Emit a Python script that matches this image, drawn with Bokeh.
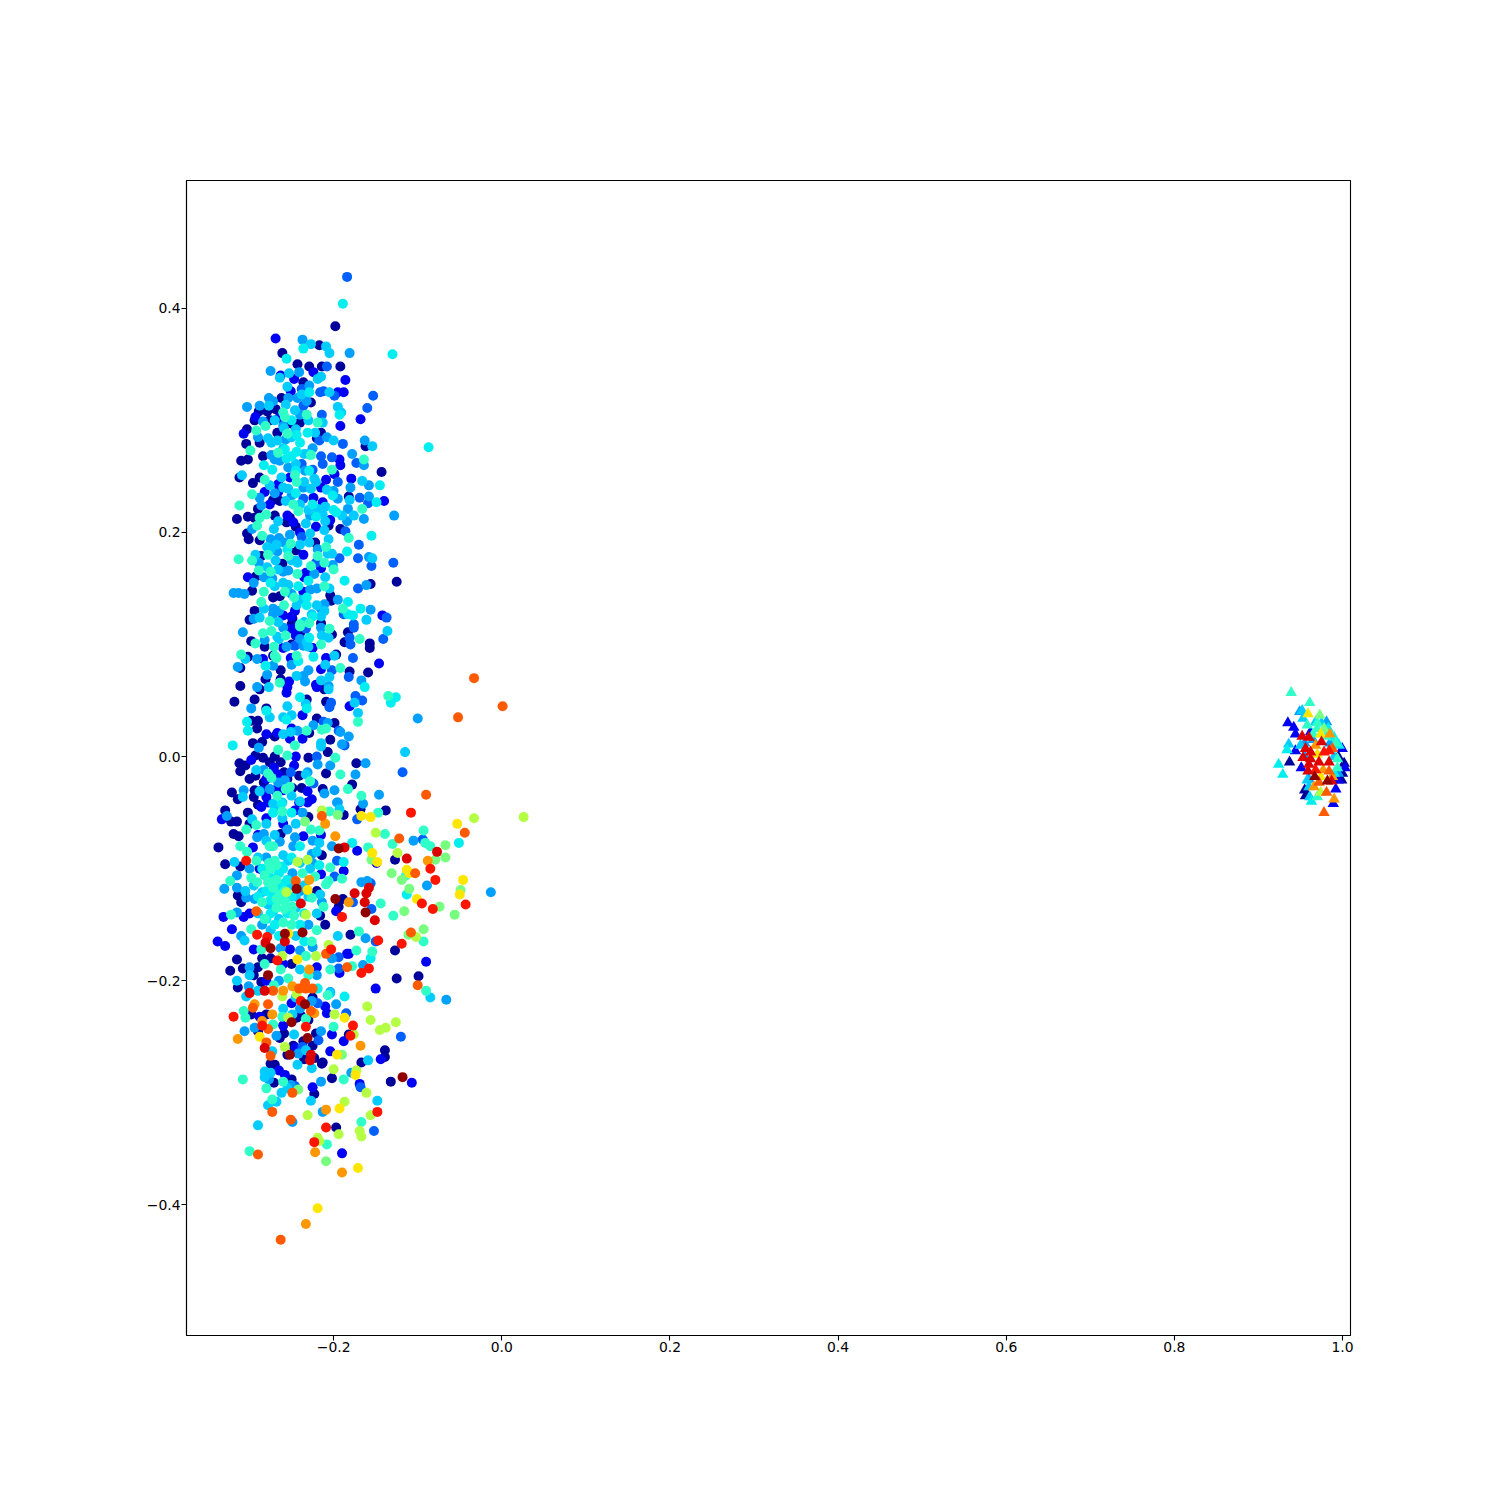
from bokeh.embed import file_html
from bokeh.models import ColumnDataSource, FixedTicker, Range1d
from bokeh.plotting import figure
from bokeh.resources import INLINE

# colour bands (jet colormap)
band_colors = {"n": "#00009a", "b": "#0000f5", "B": "#0060ff", "a": "#00a0ff", "s": "#00ccff",
               "c": "#00eef0", "t": "#30ffc8", "g": "#78ff80", "l": "#b4ff44", "y": "#ffe600",
               "o": "#ff9800", "k": "#ff5a00", "r": "#ff1400", "m": "#dc0000", "d": "#900000"}
band_order = "nbBasctglyokrmd"

x_ticks = [-0.2, 0.0, 0.2, 0.4, 0.6, 0.8, 1.0]
y_ticks = [-0.4, -0.2, 0.0, 0.2, 0.4]

top_points = [
(-.184,.428,"B"),(-.189,.404,"c"),(-.198,.384,"n"),(-.269,.373,"b"),(-.237,.372,"a"),(-.227,.368,"s"),(-.217,.367,"n"),(-.209,.366,"s"),(-.236,.364,"c"),(-.205,.360,"s"),(-.181,.360,"a"),(-.130,.359,"c"),(-.261,.360,"n"),(-.256,.355,"c"),
(-.275,.344,"a"),(-.263,.340,"b"),(-.264,.338,"s"),(-.253,.342,"s"),(-.241,.343,"a"),(-.243,.350,"n"),(-.229,.348,"n"),(-.224,.343,"b"),(-.214,.348,"n"),(-.208,.348,"B"),(-.192,.348,"n"),(-.186,.336,"b"),(-.247,.337,"b"),(-.236,.334,"n"),(-.215,.339,"s"),(-.219,.337,"s"),(-.255,.330,"s"),(-.251,.326,"b"),(-.238,.328,"B"),(-.229,.331,"a"),(-.212,.326,"B"),(-.216,.325,"B"),(-.205,.325,"s"),(-.195,.325,"b"),(-.188,.325,"b"),(-.199,.322,"B"),(-.153,.322,"B"),(-.160,.311,"B"),(-.168,.301,"b"),(-.192,.295,"b"),(-.195,.312,"s"),(-.191,.307,"s"),(-.193,.305,"c"),(-.214,.305,"B"),(-.232,.305,"t"),(-.229,.325,"c"),(-.238,.323,"s"),(-.243,.320,"a"),(-.262,.320,"n"),(-.277,.320,"a"),(-.272,.317,"a"),(-.288,.313,"a"),(-.303,.312,"a"),(-.277,.313,"s"),(-.257,.314,"s"),(-.254,.320,"a"),(-.232,.317,"a"),(-.227,.316,"n"),(-.236,.313,"B"),(-.246,.309,"s"),(-.260,.307,"t"),(-.258,.303,"t"),(-.269,.310,"n"),(-.279,.308,"n"),(-.289,.308,"n"),(-.293,.303,"b"),(-.294,.300,"n"),(-.276,.300,"n"),(-.265,.302,"b"),(-.250,.297,"n"),(-.240,.298,"n"),(-.284,.299,"a"),(-.303,.292,"n"),(-.307,.288,"b"),(-.292,.291,"t"),(-.281,.295,"t"),(-.267,.289,"n"),(-.259,.293,"s"),(-.255,.288,"t"),(-.245,.292,"s"),(-.244,.287,"c"),(-.231,.289,"c"),(-.219,.298,"t"),(-.213,.298,"s"),(-.215,.289,"n"),(-.222,.289,"s"),(-.220,.284,"n"),(-.208,.285,"a"),(-.200,.282,"s"),(-.217,.282,"B"),(-.189,.279,"B"),(-.163,.282,"a"),(-.162,.277,"n"),(-.154,.277,"s"),(-.087,.276,"c"),(-.304,.279,"n"),(-.288,.280,"n"),(-.290,.285,"a"),(-.278,.284,"s"),(-.267,.282,"s"),(-.257,.283,"a"),(-.274,.280,"s"),
]

upper_points = [
(-.299,.273,"t"),(-.310,.264,"n"),(-.302,.265,"n"),(-.309,.251,"s"),(-.312,.249,"n"),(-.296,.244,"n"),(-.288,.249,"n"),(-.282,.247,"t"),(-.283,.260,"c"),(-.273,.256,"c"),(-.266,.271,"t"),(-.256,.266,"c"),(-.244,.272,"c"),(-.230,.270,"s"),(-.227,.269,"t"),(-.215,.268,"B"),(-.213,.261,"B"),(-.202,.267,"B"),(-.193,.265,"b"),(-.192,.260,"b"),(-.178,.270,"a"),(-.173,.262,"B"),(-.164,.265,"t"),(-.164,.260,"a"),(-.143,.254,"n"),(-.202,.256,"t"),(-.199,.252,"b"),(-.209,.247,"b"),(-.195,.245,"B"),(-.179,.248,"b"),(-.166,.246,"s"),(-.158,.242,"a"),(-.145,.242,"c"),(-.200,.237,"a"),(-.201,.233,"c"),(-.208,.238,"s"),(-.215,.240,"b"),(-.221,.245,"s"),(-.229,.255,"c"),(-.244,.245,"t"),(-.246,.251,"t"),(-.262,.249,"s"),(-.266,.243,"b"),(-.276,.242,"s"),(-.266,.236,"b"),(-.254,.239,"s"),(-.297,.234,"t"),(-.288,.231,"a"),(-.282,.236,"b"),(-.312,.224,"t"),(-.286,.224,"a"),(-.290,.221,"n"),(-.276,.225,"b"),(-.264,.228,"n"),(-.272,.229,"n"),(-.257,.228,"s"),(-.248,.225,"t"),(-.236,.230,"B"),(-.224,.231,"b"),(-.242,.219,"t"),(-.230,.220,"s"),(-.219,.221,"s"),(-.210,.223,"s"),(-.213,.227,"b"),(-.182,.232,"n"),(-.181,.229,"s"),(-.169,.231,"B"),(-.158,.232,"a"),(-.159,.226,"B"),(-.149,.227,"c"),(-.140,.228,"b"),(-.183,.221,"a"),(-.166,.221,"t"),(-.176,.215,"s"),(-.190,.215,"s"),(-.197,.218,"c"),(-.128,.215,"a"),(-.204,.211,"b"),(-.164,.212,"a"),(-.184,.210,"a"),(-.315,.212,"n"),(-.302,.214,"n"),(-.294,.213,"n"),(-.288,.213,"t"),(-.280,.216,"t"),(-.270,.215,"n"),(-.252,.213,"n"),(-.256,.209,"n"),(-.248,.209,"b"),(-.266,.210,"s"),(-.228,.215,"a"),(-.221,.214,"c"),(-.213,.216,"s"),(-.233,.208,"s"),(-.221,.205,"b"),(-.291,.206,"t"),(-.297,.203,"a"),(-.271,.203,"s"),(-.206,.206,"n"),(-.211,.202,"s"),(-.192,.203,"n"),(-.186,.201,"B"),(-.155,.197,"c"),(-.182,.195,"t"),(-.206,.194,"s"),(-.303,.199,"n"),(-.301,.194,"n"),(-.288,.193,"n"),(-.285,.197,"t"),(-.275,.194,"a"),(-.265,.194,"B"),(-.252,.198,"a"),(-.238,.196,"B"),(-.228,.199,"s"),(-.229,.191,"s"),(-.222,.191,"n"),(-.259,.191,"a"),(-.251,.190,"t"),(-.268,.189,"s"),(-.240,.189,"s"),(-.279,.187,"s"),(-.170,.189,"B"),(-.209,.187,"t"),(-.267,.183,"a"),(-.245,.184,"n"),(-.219,.185,"a"),(-.207,.181,"s"),(-.202,.181,"s"),(-.184,.183,"c"),(-.236,.180,"b"),(-.219,.179,"t"),(-.293,.180,"s"),(-.278,.180,"t"),(-.254,.179,"t"),(-.313,.176,"t"),(-.297,.175,"t"),(-.286,.179,"n"),(-.269,.175,"s"),(-.193,.177,"B"),(-.171,.177,"B"),(-.158,.178,"a"),(-.154,.177,"s"),(-.129,.173,"B"),(-.155,.170,"B"),(-.211,.173,"t"),(-.221,.173,"B"),(-.243,.173,"s"),(-.250,.175,"s"),(-.261,.172,"n"),(-.289,.173,"a"),(-.227,.170,"t"),(-.201,.171,"a"),(-.200,.167,"t"),(-.215,.168,"b"),(-.279,.169,"s"),(-.266,.167,"s"),(-.275,.165,"t"),(-.289,.166,"t"),(-.254,.166,"a"),(-.243,.163,"t"),(-.233,.164,"b"),(-.223,.163,"a"),(-.302,.160,"b"),(-.292,.161,"n"),(-.283,.160,"a"),(-.273,.159,"a"),(-.235,.160,"b"),(-.187,.157,"c"),(-.161,.153,"a"),(-.156,.154,"n"),(-.125,.156,"n"),(-.171,.150,"B"),(-.295,.155,"a"),(-.270,.152,"s"),(-.254,.153,"s"),(-.242,.152,"c"),(-.230,.157,"c"),(-.211,.152,"t"),(-.319,.146,"a"),(-.313,.146,"a"),(-.306,.145,"a"),(-.297,.148,"n"),(-.283,.147,"t"),(-.258,.147,"t"),(-.228,.149,"a"),(-.236,.147,"b"),(-.204,.144,"n"),(-.232,.142,"c"),(-.247,.142,"t"),(-.272,.142,"n"),(-.264,.143,"n"),(-.286,.138,"t"),(-.203,.139,"n"),(-.183,.138,"c"),(-.259,.135,"t"),(-.244,.135,"s"),(-.232,.135,"c"),(-.211,.136,"a"),(-.283,.132,"s"),(-.294,.130,"n"),(-.272,.132,"a"),(-.189,.132,"t"),(-.168,.132,"c"),(-.156,.131,"a"),(-.246,.130,"b"),(-.211,.130,"s"),(-.215,.132,"a"),(-.226,.127,"s"),(-.260,.126,"b"),(-.272,.127,"a"),(-.188,.127,"B"),(-.183,.127,"c"),(-.177,.126,"c"),(-.142,.126,"b"),(-.137,.124,"B"),(-.215,.125,"s"),(-.249,.123,"n"),(-.300,.122,"n"),(-.295,.123,"a"),(-.288,.124,"s"),(-.276,.121,"t"),(-.266,.120,"s"),(-.161,.122,"s"),(-.250,.118,"n"),(-.240,.118,"t"),(-.229,.119,"t"),(-.215,.119,"n"),(-.176,.118,"B"),
(-.258,.274,"c"),(-.250,.268,"c"),(-.264,.264,"a"),(-.254,.258,"a"),(-.245,.261,"s"),(-.238,.261,"B"),(-.234,.255,"a"),(-.223,.248,"s"),(-.227,.239,"s"),(-.236,.240,"a"),(-.250,.233,"a"),(-.284,.268,"n"),(-.274,.269,"a"),(-.225,.256,"B"),(-.252,.249,"b"),
(-.27,.30,"s"),(-.26,.295,"a"),(-.25,.30,"c"),(-.24,.305,"a"),(-.23,.30,"s"),(-.25,.285,"s"),(-.24,.28,"c"),(-.235,.27,"s"),(-.225,.275,"a"),(-.26,.275,"s"),(-.27,.265,"a"),(-.245,.255,"c"),(-.235,.245,"s"),(-.26,.24,"s"),(-.27,.235,"a"),(-.245,.235,"c"),(-.24,.225,"s"),(-.225,.225,"c"),(-.255,.215,"b"),(-.245,.205,"n"),(-.24,.20,"b"),(-.265,.195,"a"),(-.275,.185,"s"),(-.255,.185,"c"),(-.245,.175,"s"),(-.26,.165,"a"),(-.275,.155,"c"),(-.26,.155,"s"),(-.25,.145,"a"),(-.24,.14,"s"),(-.265,.13,"a"),(-.25,.125,"b"),(-.24,.11,"n"),(-.245,.115,"b"),(-.235,.12,"s"),(-.26,.115,"a"),(-.265,.105,"s"),(-.25,.10,"n"),(-.24,.105,"a"),(-.225,.125,"c"),(-.22,.135,"s"),(-.22,.15,"a"),(-.21,.16,"s"),(-.205,.15,"s"),(-.195,.14,"a"),(-.215,.115,"a"),(-.21,.21,"s"),(-.195,.23,"a"),(-.20,.22,"c"),(-.18,.24,"a"),
]

middle_points = [
(-.308,.111,"a"),(-.298,.103,"n"),(-.293,.101,"t"),(-.284,.110,"t"),(-.282,.104,"a"),(-.274,.112,"t"),(-.267,.107,"s"),(-.257,.108,"t"),(-.252,.114,"b"),(-.245,.108,"b"),(-.233,.114,"B"),(-.240,.116,"t"),(-.229,.106,"c"),(-.232,.102,"s"),(-.214,.108,"s"),(-.215,.100,"t"),(-.206,.106,"s"),(-.205,.114,"t"),(-.202,.109,"n"),(-.183,.111,"n"),(-.176,.115,"B"),(-.181,.106,"B"),(-.187,.102,"n"),(-.180,.100,"B"),(-.169,.105,"t"),(-.157,.101,"n"),(-.157,.097,"n"),(-.141,.105,"B"),(-.136,.112,"s"),(-.282,.098,"n"),(-.271,.098,"t"),(-.260,.097,"b"),(-.256,.098,"a"),(-.246,.099,"B"),(-.236,.099,"a"),(-.230,.098,"s"),(-.225,.097,"b"),(-.310,.091,"t"),(-.302,.089,"n"),(-.305,.087,"s"),(-.291,.087,"a"),(-.284,.087,"b"),(-.272,.090,"n"),(-.270,.090,"t"),(-.268,.088,"t"),(-.251,.088,"b"),(-.244,.090,"t"),(-.242,.085,"c"),(-.224,.089,"c"),(-.209,.088,"b"),(-.197,.091,"n"),(-.199,.090,"s"),(-.177,.088,"B"),(-.146,.083,"b"),(-.210,.082,"s"),(-.250,.082,"a"),(-.281,.081,"c"),(-.272,.081,"a"),(-.311,.079,"n"),(-.314,.080,"a"),(-.263,.077,"n"),(-.230,.077,"a"),(-.215,.078,"b"),(-.202,.077,"B"),(-.192,.079,"t"),(-.181,.076,"n"),(-.159,.075,"n"),(-.279,.073,"a"),(-.244,.072,"s"),(-.236,.072,"a"),(-.205,.071,"s"),(-.182,.071,"B"),(-.281,.069,"n"),(-.263,.069,"n"),(-.264,.066,"t"),(-.253,.067,"b"),(-.234,.067,"a"),(-.215,.068,"s"),(-.167,.068,"a"),(-.311,.063,"n"),(-.288,.060,"n"),(-.291,.062,"a"),(-.277,.062,"s"),(-.255,.062,"b"),(-.221,.064,"b"),(-.220,.062,"b"),(-.211,.060,"n"),(-.206,.063,"a"),(-.206,.060,"s"),(-.163,.062,"c"),(-.256,.057,"b"),(-.033,.070,"k"),(.001,.045,"k"),(-.052,.035,"k"),(-.135,.054,"t"),(-.126,.053,"c"),(-.132,.048,"c"),(-.100,.034,"a"),(-.294,.051,"n"),(-.318,.049,"n"),(-.240,.053,"c"),(-.232,.051,"n"),(-.174,.054,"B"),(-.166,.050,"B"),(-.175,.048,"s"),(-.209,.049,"n"),(-.203,.048,"B"),(-.205,.044,"B"),(-.233,.047,"s"),(-.232,.043,"c"),(-.255,.045,"s"),(-.181,.045,"b"),(-.298,.043,"a"),(-.280,.043,"n"),(-.280,.041,"c"),(-.171,.039,"s"),(-.237,.037,"b"),(-.276,.035,"s"),(-.250,.037,"s"),(-.260,.035,"s"),(-.256,.033,"c"),(-.220,.034,"n"),(-.298,.032,"n"),(-.290,.032,"n"),(-.303,.031,"c"),(-.171,.031,"t"),(-.212,.031,"B"),(-.207,.030,"a"),(-.199,.030,"n"),(-.224,.028,"a"),(-.291,.025,"n"),(-.302,.023,"c"),(-.250,.025,"b"),(-.243,.023,"a"),(-.232,.023,"t"),(-.229,.021,"n"),(-.214,.024,"t"),(-.209,.025,"t"),(-.194,.023,"B"),(-.192,.022,"a"),(-.182,.018,"a"),(-.251,.022,"s"),(-.267,.021,"b"),(-.270,.018,"n"),(-.252,.016,"b"),(-.237,.016,"b"),(-.204,.015,"n"),(-.296,.012,"n"),(-.285,.013,"n"),(-.320,.010,"c"),(-.289,.008,"a"),(-.246,.010,"t"),(-.215,.012,"s"),(-.215,.009,"s"),(-.187,.010,"B"),(-.190,.011,"a"),(-.266,.006,"t"),(-.115,.004,"s"),(-.207,.004,"n"),(-.255,.001,"t"),(-.293,.001,"n"),(-.284,-.001,"n"),(-.230,-.001,"n"),(-.220,.000,"B"),(-.198,-.001,"t"),(-.312,-.006,"n"),(-.305,-.008,"n"),(-.298,-.003,"b"),(-.276,-.005,"n"),(-.263,-.005,"n"),(-.247,-.008,"b"),(-.219,-.007,"a"),(-.204,-.008,"a"),(-.173,-.006,"n"),(-.162,-.006,"a"),(-.311,-.013,"n"),(-.292,-.012,"s"),(-.283,-.012,"a"),(-.271,-.010,"b"),(-.278,-.015,"t"),(-.251,-.014,"B"),(-.259,-.014,"n"),(-.266,-.016,"b"),(-.293,-.017,"n"),(-.274,-.019,"t"),(-.241,-.017,"n"),(-.231,-.014,"a"),(-.233,-.016,"s"),(-.209,-.015,"n"),(-.192,-.016,"t"),(-.174,-.016,"a"),(-.118,-.014,"B"),(-.178,-.025,"n"),(-.283,-.023,"n"),(-.258,-.021,"a"),(-.266,-.023,"a"),(-.228,-.022,"t"),(-.224,-.024,"B"),(-.276,-.029,"a"),(-.257,-.029,"t"),(-.252,-.027,"t"),(-.249,-.028,"n"),(-.238,-.028,"n"),(-.231,-.031,"b"),(-.294,-.030,"n"),(-.321,-.032,"n"),(-.307,-.030,"a"),(-.288,-.031,"s"),(-.211,-.033,"a"),(-.213,-.029,"n"),(-.199,-.030,"a"),(-.183,-.029,"t"),(-.146,-.034,"a"),(-.090,-.034,"k"),(-.167,-.035,"t"),(-.314,-.038,"n"),(-.308,-.036,"s"),(-.295,-.036,"n"),(-.280,-.036,"b"),(-.267,-.035,"t"),(-.250,-.035,"s"),(-.226,-.038,"b"),(-.241,-.041,"b"),(-.231,-.041,"b"),(-.195,-.041,"a"),(-.261,-.041,"s"),(-.278,-.041,"b"),(-.290,-.043,"n"),
(-.28,.02,"b"),(-.27,.0,"n"),(-.26,.02,"s"),(-.245,.0,"b"),(-.28,-.02,"b"),(-.27,-.03,"b"),(-.26,-.03,"b"),(-.255,-.02,"n"),(-.27,-.045,"s"),(-.28,-.055,"b"),(-.24,-.04,"s"),(-.25,-.05,"c"),(-.26,-.06,"b"),(-.285,-.03,"b"),(-.30,-.02,"n"),
]

lower_points = [
(-.329,-.048,"n"),(-.327,-.053,"a"),(-.333,-.056,"b"),(-.322,-.058,"n"),(-.315,-.058,"n"),(-.302,-.050,"n"),(-.286,-.045,"b"),(-.272,-.042,"s"),(-.262,-.042,"c"),(-.272,-.050,"c"),(-.261,-.049,"t"),(-.297,-.056,"s"),(-.292,-.061,"t"),(-.280,-.060,"s"),(-.261,-.055,"s"),(-.246,-.048,"b"),(-.237,-.050,"a"),(-.230,-.054,"n"),(-.234,-.058,"g"),(-.214,-.048,"l"),(-.214,-.053,"k"),(-.205,-.049,"t"),(-.195,-.052,"g"),(-.210,-.060,"o"),(-.188,-.052,"n"),(-.193,-.047,"s"),(-.196,-.041,"a"),(-.165,-.042,"a"),(-.168,-.047,"n"),(-.167,-.053,"y"),(-.156,-.054,"y"),(-.172,-.056,"B"),(-.147,-.050,"t"),(-.138,-.048,"n"),(-.108,-.050,"r"),(-.033,-.055,"l"),(.026,-.054,"l"),(-.053,-.060,"y"),(-.044,-.068,"k"),(-.150,-.068,"l"),(-.139,-.069,"t"),(-.122,-.073,"k"),(-.130,-.078,"t"),(-.105,-.075,"a"),(-.093,-.066,"t"),(-.094,-.074,"B"),(-.091,-.077,"t"),(-.085,-.080,"t"),(-.067,-.079,"g"),(-.051,-.077,"c"),(-.077,-.085,"m"),(-.067,-.090,"g"),(-.079,-.092,"g"),(-.088,-.093,"o"),(-.113,-.091,"m"),(-.124,-.086,"l"),(-.127,-.092,"n"),(-.159,-.081,"t"),(-.154,-.086,"y"),(-.155,-.092,"g"),(-.149,-.095,"b"),(-.148,-.094,"y"),(-.172,-.084,"b"),(-.178,-.077,"c"),(-.187,-.081,"m"),(-.194,-.082,"d"),(-.202,-.080,"a"),(-.198,-.071,"o"),(-.217,-.066,"t"),(-.217,-.077,"s"),(-.236,-.071,"b"),(-.248,-.080,"a"),(-.260,-.088,"s"),(-.272,-.080,"t"),(-.304,-.065,"t"),(-.319,-.069,"n"),(-.313,-.071,"n"),(-.291,-.072,"a"),(-.283,-.069,"a"),(-.264,-.076,"a"),(-.337,-.081,"n"),(-.311,-.080,"t"),(-.296,-.081,"b"),(-.303,-.085,"t"),(-.276,-.080,"t"),(-.263,-.069,"n"),(-.246,-.072,"a"),(-.227,-.065,"t"),(-.214,-.088,"n"),(-.226,-.087,"a"),(-.243,-.094,"l"),(-.231,-.092,"l"),(-.304,-.093,"r"),(-.329,-.096,"n"),(-.318,-.094,"s"),(-.292,-.093,"t"),(-.270,-.093,"t"),(-.268,-.097,"t"),(-.254,-.093,"s"),(-.217,-.097,"c"),(-.196,-.093,"B"),(-.188,-.094,"c"),(-.204,-.099,"t"),(-.311,-.098,"n"),(-.300,-.100,"a"),(-.288,-.100,"b"),(-.277,-.095,"t"),(-.249,-.104,"a"),(-.237,-.104,"t"),(-.228,-.100,"s"),(-.188,-.102,"b"),(-.282,-.106,"t"),(-.298,-.108,"t"),(-.315,-.106,"a"),(-.323,-.111,"t"),(-.222,-.107,"t"),(-.199,-.107,"B"),(-.190,-.109,"t"),(-.206,-.111,"t"),(-.209,-.114,"t"),(-.229,-.110,"o"),(-.245,-.111,"k"),(-.270,-.111,"t"),(-.258,-.113,"s"),(-.291,-.112,"t"),(-.167,-.112,"a"),(-.160,-.111,"a"),(-.156,-.113,"B"),(-.158,-.117,"m"),(-.131,-.104,"g"),(-.119,-.110,"g"),(-.114,-.106,"t"),(-.113,-.101,"y"),(-.110,-.104,"y"),(-.103,-.104,"k"),(-.085,-.100,"r"),(-.079,-.110,"r"),(-.089,-.115,"a"),(-.046,-.110,"y"),(-.049,-.119,"g"),(-.050,-.123,"y"),(-.013,-.121,"a"),(-.043,-.132,"r"),(-.074,-.134,"g"),(-.082,-.136,"r"),(-.095,-.131,"r"),(-.101,-.127,"y"),(-.110,-.118,"g"),(-.113,-.123,"c"),(-.056,-.141,"g"),(-.116,-.138,"g"),(-.129,-.142,"t"),(-.144,-.131,"t"),(-.175,-.122,"m"),(-.161,-.122,"m"),(-.163,-.130,"m"),(-.182,-.130,"o"),(-.177,-.130,"B"),(-.198,-.127,"d"),(-.189,-.127,"n"),(-.194,-.134,"n"),(-.197,-.138,"b"),(-.155,-.136,"B"),(-.162,-.139,"d"),(-.151,-.146,"m"),(-.190,-.143,"r"),(-.216,-.142,"n"),(-.212,-.134,"t"),(-.214,-.130,"a"),(-.216,-.123,"s"),(-.226,-.126,"t"),(-.231,-.119,"y"),(-.244,-.118,"d"),(-.256,-.121,"l"),(-.239,-.131,"m"),(-.233,-.141,"l"),(-.292,-.138,"k"),(-.322,-.141,"t"),(-.331,-.143,"b"),(-.315,-.139,"a"),(-.307,-.143,"b"),(-.282,-.145,"t"),(-.272,-.138,"s"),(-.258,-.136,"t"),(-.247,-.142,"t"),(-.304,-.126,"a"),(-.315,-.117,"a"),(-.330,-.118,"a"),(-.314,-.124,"n"),(-.294,-.127,"a"),(-.278,-.132,"s"),(-.268,-.127,"t"),(-.258,-.129,"t"),(-.249,-.134,"t"),(-.285,-.121,"s"),(-.272,-.117,"t"),(-.264,-.123,"t"),(-.321,-.154,"b"),(-.298,-.154,"t"),(-.310,-.160,"a"),(-.291,-.159,"r"),(-.279,-.161,"r"),(-.281,-.166,"m"),(-.275,-.171,"d"),(-.258,-.158,"d"),(-.254,-.158,"y"),(-.258,-.165,"m"),(-.237,-.157,"d"),(-.220,-.155,"t"),(-.195,-.160,"s"),(-.170,-.156,"t"),(-.180,-.159,"n"),(-.162,-.162,"a"),(-.147,-.164,"r"),(-.150,-.165,"B"),(-.119,-.167,"r"),(-.108,-.157,"k"),(-.111,-.159,"g"),(-.102,-.161,"l"),(-.093,-.154,"g"),(-.093,-.165,"t"),(-.127,-.173,"n"),(-.154,-.174,"t"),(-.156,-.180,"c"),(-.173,-.173,"t"),(-.182,-.176,"b"),(-.206,-.168,"l"),(-.203,-.172,"r"),(-.209,-.176,"k"),(-.221,-.178,"l"),(-.226,-.165,"t"),(-.338,-.165,"b"),(-.329,-.169,"b"),(-.306,-.164,"s"),(-.295,-.172,"b"),(-.286,-.172,"t"),(-.263,-.171,"a"),(-.252,-.172,"b"),(-.240,-.173,"a"),(-.233,-.178,"t"),(-.194,-.179,"B"),(-.184,-.176,"b"),(-.202,-.180,"a"),(-.315,-.181,"n"),(-.267,-.182,"r"),(-.261,-.178,"l"),(-.243,-.181,"y"),(-.282,-.185,"t"),(-.308,-.189,"n"),(-.300,-.188,"a"),(-.290,-.188,"n"),(-.323,-.191,"n"),(-.263,-.190,"t"),(-.229,-.190,"o"),(-.220,-.188,"b"),(-.204,-.190,"t"),(-.194,-.189,"B"),(-.193,-.193,"b"),(-.184,-.188,"k"),(-.178,-.187,"t"),(-.165,-.186,"a"),(-.158,-.189,"r"),(-.167,-.193,"r"),(-.090,-.183,"b"),(-.099,-.196,"n"),(-.125,-.198,"n"),(-.100,-.204,"k"),(-.150,-.207,"b"),(-.090,-.209,"t"),(-.300,-.195,"s"),(-.278,-.195,"d"),(-.315,-.200,"s"),(-.301,-.205,"a"),(-.314,-.206,"n"),(-.286,-.201,"n"),(-.271,-.204,"t"),(-.254,-.198,"t"),(-.249,-.205,"o"),(-.234,-.202,"k"),(-.241,-.207,"k"),(-.233,-.207,"k"),(-.260,-.209,"o"),(-.282,-.209,"m"),(-.225,-.207,"k"),(-.219,-.207,"c"),(-.204,-.210,"a"),
(-.275,-.100,"t"),(-.265,-.104,"c"),(-.268,-.110,"t"),(-.262,-.115,"c"),(-.278,-.112,"t"),(-.272,-.122,"c"),(-.266,-.128,"t"),(-.260,-.128,"c"),(-.275,-.128,"c"),(-.258,-.120,"t"),(-.262,-.098,"c"),(-.285,-.130,"t"),(-.250,-.125,"c"),(-.268,-.135,"t"),(-.280,-.145,"c"),(-.260,-.148,"t"),(-.240,-.150,"c"),(-.250,-.150,"t"),
(-.30,-.06,"n"),(-.29,-.07,"b"),(-.28,-.075,"s"),(-.27,-.07,"s"),(-.255,-.065,"a"),(-.245,-.06,"s"),(-.24,-.08,"c"),(-.225,-.075,"a"),(-.22,-.085,"s"),(-.215,-.07,"b"),(-.29,-.09,"s"),(-.28,-.09,"a"),(-.285,-.10,"c"),(-.295,-.115,"s"),(-.29,-.125,"c"),(-.28,-.12,"c"),(-.275,-.108,"c"),(-.27,-.115,"c"),(-.265,-.12,"c"),(-.255,-.11,"c"),(-.25,-.115,"s"),(-.245,-.125,"s"),(-.24,-.12,"a"),(-.235,-.115,"s"),(-.23,-.125,"s"),(-.22,-.12,"n"),(-.215,-.105,"b"),(-.225,-.095,"a"),(-.24,-.095,"s"),(-.25,-.09,"c"),(-.26,-.10,"c"),(-.29,-.14,"s"),(-.285,-.15,"a"),(-.275,-.14,"c"),(-.27,-.15,"c"),(-.265,-.145,"s"),(-.255,-.14,"c"),(-.245,-.135,"s"),(-.235,-.14,"c"),(-.23,-.15,"a"),(-.22,-.14,"s"),(-.21,-.15,"n"),(-.30,-.14,"b"),(-.31,-.13,"n"),(-.305,-.12,"s"),(-.275,-.155,"s"),(-.265,-.16,"c"),(-.245,-.16,"s"),(-.235,-.165,"c"),(-.225,-.17,"a"),(-.285,-.18,"n"),(-.275,-.18,"n"),(-.26,-.185,"b"),(-.25,-.185,"n"),(-.24,-.19,"s"),(-.23,-.195,"t"),(-.22,-.195,"a"),(-.295,-.195,"n"),(-.28,-.20,"b"),(-.265,-.20,"a"),
]

bottom_points = [
(-.300,-.211,"m"),(-.272,-.209,"k"),(-.304,-.214,"s"),(-.290,-.209,"s"),(-.261,-.214,"l"),(-.244,-.212,"l"),(-.207,-.213,"t"),(-.204,-.211,"s"),(-.187,-.214,"c"),(-.085,-.215,"s"),(-.066,-.217,"a"),(-.197,-.221,"a"),(-.210,-.223,"b"),(-.208,-.229,"b"),(-.160,-.223,"l"),(-.294,-.221,"o"),(-.296,-.224,"k"),(-.278,-.221,"k"),(-.239,-.218,"r"),(-.234,-.221,"d"),(-.227,-.227,"k"),(-.223,-.229,"o"),(-.219,-.220,"B"),(-.226,-.218,"a"),(-.307,-.227,"t"),(-.305,-.233,"t"),(-.319,-.232,"r"),(-.298,-.230,"n"),(-.288,-.232,"b"),(-.273,-.230,"o"),(-.260,-.225,"s"),(-.261,-.232,"t"),(-.254,-.233,"l"),(-.249,-.230,"s"),(-.239,-.231,"n"),(-.244,-.233,"n"),(-.233,-.234,"t"),(-.199,-.230,"l"),(-.185,-.229,"B"),(-.187,-.233,"y"),(-.156,-.235,"l"),(-.126,-.237,"l"),(-.138,-.242,"l"),(-.145,-.244,"l"),(-.285,-.236,"o"),(-.285,-.240,"r"),(-.278,-.243,"k"),(-.272,-.239,"t"),(-.294,-.242,"a"),(-.306,-.245,"a"),(-.314,-.252,"o"),(-.250,-.237,"d"),(-.233,-.241,"r"),(-.200,-.241,"t"),(-.177,-.240,"r"),(-.215,-.245,"a"),(-.221,-.247,"n"),(-.259,-.247,"n"),(-.264,-.251,"n"),(-.268,-.249,"a"),(-.247,-.248,"s"),(-.288,-.250,"y"),(-.231,-.251,"d"),(-.218,-.253,"B"),(-.202,-.248,"b"),(-.176,-.248,"l"),(-.180,-.249,"r"),(-.182,-.248,"n"),(-.188,-.254,"b"),(-.120,-.250,"B"),(-.236,-.254,"n"),(-.280,-.255,"k"),(-.282,-.260,"m"),(-.248,-.258,"n"),(-.258,-.259,"l"),(-.225,-.258,"n"),(-.168,-.258,"o"),(-.273,-.263,"s"),(-.233,-.262,"s"),(-.237,-.259,"B"),(-.204,-.263,"b"),(-.139,-.262,"n"),(-.139,-.268,"n"),(-.144,-.270,"b"),(-.159,-.271,"s"),(-.167,-.273,"n"),(-.196,-.266,"y"),(-.190,-.266,"g"),(-.275,-.267,"k"),(-.252,-.266,"d"),(-.255,-.266,"n"),(-.242,-.265,"a"),(-.227,-.266,"m"),(-.228,-.271,"m"),(-.223,-.269,"n"),(-.214,-.274,"n"),(-.213,-.273,"n"),(-.275,-.274,"n"),(-.243,-.275,"s"),(-.226,-.278,"s"),(-.200,-.279,"l"),(-.179,-.282,"a"),(-.173,-.280,"l"),(-.174,-.284,"y"),(-.282,-.281,"s"),(-.275,-.282,"s"),(-.282,-.286,"s"),(-.277,-.288,"a"),(-.308,-.288,"t"),(-.271,-.291,"n"),(-.258,-.284,"b"),(-.250,-.288,"n"),(-.260,-.290,"t"),(-.251,-.293,"a"),(-.246,-.294,"B"),(-.255,-.296,"s"),(-.242,-.297,"g"),(-.280,-.296,"t"),(-.215,-.290,"a"),(-.202,-.287,"n"),(-.188,-.288,"t"),(-.132,-.290,"n"),(-.118,-.286,"d"),(-.107,-.291,"b"),(-.169,-.292,"b"),(-.168,-.295,"B"),(-.161,-.300,"l"),(-.225,-.295,"b"),(-.223,-.301,"n"),(-.262,-.300,"s"),(-.249,-.300,"k"),(-.227,-.307,"s"),(-.273,-.306,"t"),(-.268,-.308,"s"),(-.278,-.311,"s"),(-.187,-.308,"l"),(-.148,-.307,"s"),(-.209,-.315,"o"),(-.193,-.314,"y"),(-.273,-.317,"k"),(-.231,-.320,"l"),(-.213,-.317,"a"),(-.148,-.317,"r"),(-.156,-.320,"l"),
(-.290,-.329,"s"),(-.251,-.324,"k"),(-.249,-.326,"a"),(-.167,-.326,"t"),(-.209,-.331,"r"),(-.197,-.331,"n"),(-.194,-.337,"l"),(-.219,-.340,"l"),(-.217,-.343,"l"),(-.223,-.344,"r"),(-.208,-.346,"t"),(-.169,-.334,"l"),(-.167,-.339,"l"),(-.152,-.334,"B"),(-.300,-.352,"t"),(-.290,-.355,"k"),(-.222,-.353,"o"),(-.190,-.354,"b"),(-.209,-.361,"g"),(-.190,-.371,"o"),(-.171,-.367,"y"),(-.219,-.403,"y"),(-.233,-.417,"o"),(-.263,-.431,"k"),
(-.245,-.215,"s"),(-.24,-.225,"a"),(-.25,-.22,"b"),(-.225,-.215,"n"),(-.23,-.235,"n"),(-.26,-.24,"b"),(-.28,-.23,"n"),(-.29,-.245,"n"),(-.27,-.275,"n"),(-.245,-.26,"b"),(-.235,-.27,"n"),(-.265,-.28,"b"),
]

right_points = [
(.939,.057,"t"),(.961,.048,"t"),(.949,.040,"a"),(.952,.041,"s"),(.959,.038,"y"),(.973,.037,"g"),(.953,.034,"s"),(.935,.030,"b"),(.942,.026,"b"),(.958,.028,"t"),(.968,.031,"s"),(.981,.031,"a"),(.970,.025,"t"),(.944,.020,"b"),(.952,.018,"m"),(.960,.017,"m"),(.962,.022,"b"),(.974,.020,"y"),(.985,.020,"o"),(.978,.025,"g"),(.990,.017,"c"),(.936,.011,"s"),(.934,.006,"c"),(.944,.005,"b"),(.956,.007,"m"),(.962,.004,"m"),(.968,.010,"o"),(.975,.013,"m"),(.988,.007,"k"),(.996,.010,"c"),(.9996,.007,"b"),(.970,.002,"y"),(.978,.004,"r"),(.984,.005,"r"),(.953,-.001,"m"),(.962,-.002,"m"),(.972,-.005,"m"),(.984,-.005,"m"),(.994,-.002,"t"),(1.002,-.006,"n"),(.924,-.007,"c"),(.937,-.005,"n"),(.960,-.007,"m"),(.951,-.010,"b"),(.959,-.013,"m"),(.968,-.012,"r"),(.977,-.012,"o"),(.984,-.013,"k"),(.994,-.010,"t"),(1.003,-.010,"b"),(.929,-.016,"c"),(.967,-.018,"d"),(.974,-.018,"y"),(.988,-.018,"o"),(.999,-.021,"n"),(.982,-.022,"d"),(.987,-.022,"m"),(.972,-.023,"k"),(.958,-.021,"s"),(.995,-.021,"b"),(.966,-.027,"o"),(.960,-.027,"s"),(.992,-.029,"b"),(.981,-.032,"k"),(.974,-.032,"l"),(.956,-.035,"n"),(.961,-.036,"s"),(.970,-.036,"t"),(.990,-.038,"o"),(.989,-.042,"b"),(.963,-.040,"c"),(.978,-.050,"k"),
(.965,.015,"a"),(.955,.012,"a"),(.975,.030,"s"),(.985,.012,"a"),(.990,.000,"s"),(.955,.000,"a"),(.950,.010,"s"),(.995,-.015,"a"),(.960,-.020,"a"),(.990,-.015,"c"),(.983,.025,"c"),(.970,.030,"t"),(.965,.020,"t"),(.980,.018,"t"),(.992,.012,"t"),(.995,.000,"n"),(1.000,-.015,"n"),(.955,-.030,"n"),
]

circles = top_points + upper_points + middle_points + lower_points + bottom_points


def columns(points):
    ordered = sorted(points, key=lambda q: band_order.index(q[2]))
    return dict(x=[q[0] for q in ordered], y=[q[1] for q in ordered],
                color=[band_colors[q[2]] for q in ordered])


p = figure(width=1484, height=1484, output_backend="svg", toolbar_location=None,
           x_range=Range1d(-0.375, 1.0095), y_range=Range1d(-0.5165, 0.514),
           min_border_left=186, min_border_right=134, min_border_top=180, min_border_bottom=149)
p.grid.visible = False
p.background_fill_color = "white"
p.outline_line_color = "black"
p.outline_line_width = 1.1

p.scatter("x", "y", source=ColumnDataSource(columns(circles)), marker="circle", size=10,
          fill_color="color", line_color=None)
p.scatter("x", "y", source=ColumnDataSource(columns(right_points)), marker="triangle", size=11.5,
          fill_color="color", line_color=None)


def label(v):
    return ("\u2212" if v < 0 else "") + f"{abs(v):.1f}"


for axis, ticks in ((p.xaxis[0], x_ticks), (p.yaxis[0], y_ticks)):
    axis.ticker = FixedTicker(ticks=ticks)
    axis.major_label_overrides = {t: label(t) for t in ticks}
    axis.major_label_text_font = "DejaVu Sans"
    axis.major_label_text_font_size = "13.9px"
    axis.major_label_text_color = "black"
    axis.major_label_standoff = 1
    axis.major_tick_in = 0
    axis.major_tick_out = 5
    axis.major_tick_line_color = "black"
    axis.major_tick_line_width = 1.1
    axis.minor_tick_line_color = None
    axis.axis_line_color = "black"
    axis.axis_line_width = 1.1
p.yaxis[0].major_label_orientation = "horizontal"

open("out.html", "w").write(file_html(p, INLINE))
